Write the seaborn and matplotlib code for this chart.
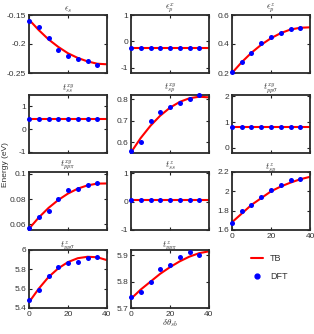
import numpy as np
import seaborn as sns
import matplotlib.pyplot as plt
from matplotlib.lines import Line2D

# =========================
# DATA
# =========================
angle_dft = [0, 5, 10, 15, 20, 25, 30, 35]
angle_tb = [0, 5, 10, 15, 20, 25, 30, 35, 40]

titles = [r'$\epsilon_s$', r'$\epsilon_p^x$', r'$\epsilon_p^z$',
          r'$t_{ss}^{xy}$', r'$t_{sp}^{xy}$', r'$t_{pp\sigma}^{xy}$',
          r'$t_{pp\pi}^{xy}$', r'$t_{ss}^{z}$', r'$t_{sp}^{z}$',
          r'$t_{pp\sigma}^{z}$', r'$t_{pp\pi}^{z}$']

eps_s_dft = [-0.160, -0.171, -0.190, -0.210, -0.220, -0.226, -0.230, -0.236]
eps_s_tb = [-0.158, -0.176, -0.192, -0.205, -0.216, -0.224, -0.230, -0.234, -0.235]
eps_px_dft = [-0.25] * 8
eps_px_tb = [-0.25] * 9
eps_pz_dft = [0.210, 0.277, 0.337, 0.405, 0.445, 0.477, 0.503, 0.508]
eps_pz_tb = [0.200, 0.275, 0.340, 0.395, 0.440, 0.475, 0.500, 0.512, 0.515]
tss_xy_dft = [0.45] * 8
tss_xy_tb = [0.45] * 9
tsp_xy_dft = [0.557, 0.600, 0.700, 0.740, 0.762, 0.781, 0.800, 0.821]
tsp_xy_tb = [0.553, 0.620, 0.677, 0.724, 0.761, 0.788, 0.805, 0.812, 0.809]
tpps_xy_dft = [0.8] * 8
tpps_xy_tb = [0.8] * 9
tppp_xy_dft = [0.0569, 0.0657, 0.0707, 0.0799, 0.0870, 0.0877, 0.0909, 0.0927]
tppp_xy_tb = [0.0565, 0.0654, 0.0730, 0.0793, 0.0844, 0.0883, 0.0909, 0.0923, 0.0924]
tss_z_dft = [0.05] * 8
tss_z_tb = [0.05] * 9
tsp_z_dft = [1.677, 1.793, 1.856, 1.940, 2.013, 2.070, 2.113, 2.123]
tsp_z_tb = [1.680, 1.770, 1.860, 1.930, 2.000, 2.050, 2.090, 2.125, 2.150]
tpps_z_dft = [5.48, 5.59, 5.729, 5.823, 5.868, 5.879, 5.920, 5.930]
tpps_z_tb = [5.46, 5.600, 5.720, 5.810, 5.875, 5.915, 5.930, 5.925, 5.895]
tppp_z_dft = [5.742, 5.761, 5.800, 5.849, 5.865, 5.892, 5.913, 5.902]
tppp_z_tb = [5.735, 5.770, 5.800, 5.830, 5.855, 5.877, 5.895, 5.908, 5.915]

dft_series = [eps_s_dft, eps_px_dft, eps_pz_dft, tss_xy_dft, tsp_xy_dft, tpps_xy_dft,
              tppp_xy_dft, tss_z_dft, tsp_z_dft, tpps_z_dft, tppp_z_dft]
tb_series = [eps_s_tb, eps_px_tb, eps_pz_tb, tss_xy_tb, tsp_xy_tb, tpps_xy_tb,
             tppp_xy_tb, tss_z_tb, tsp_z_tb, tpps_z_tb, tppp_z_tb]

ylims = [(-0.25, -0.15), (-1.2, 1), (0.2, 0.6), (-1.05, 1.5), (0.55, 0.82), (-0.2, 2.05),
         (0.0555, 0.1015), (-1, 1.05), (1.6, 2.2), (5.4, 6.0), (5.7, 5.92)]
yticks = [[-0.25, -0.2, -0.15], [-1, 0, 1], [0.2, 0.4, 0.6], [-1, 0, 1], [0.6, 0.7, 0.8],
          [0, 1, 2], [0.06, 0.08, 0.1], [-1, 0, 1], [1.6, 1.8, 2, 2.2],
          [5.4, 5.6, 5.8, 6], [5.7, 5.8, 5.9]]
yticklabels = [['-0.25', '-0.2', '-0.15'], ['-1', '0', '1'], ['0.2', '0.4', '0.6'],
               ['-1', '0', '1'], ['0.6', '0.7', '0.8'], ['0', '1', '2'],
               ['0.06', '0.08', '0.1'], ['-1', '0', '1'], ['1.6', '1.8', '2', '2.2'],
               ['5.4', '5.6', '5.8', '6'], ['5.7', '5.8', '5.9']]

# =========================
# STYLE
# =========================
sns.set_style('ticks')
plt.rcParams['font.family'] = ['Liberation Sans', 'DejaVu Sans']
plt.rcParams['mathtext.fontset'] = 'cm'

W, H = 314, 334
fig = plt.figure(figsize=(W / 100, H / 100), dpi=100)

col_left = [29, 131, 232]
row_top = [15, 95, 172, 250]
aw, ah = 78, 58

for i in range(11):
    r, c = divmod(i, 3)
    ax = fig.add_axes([col_left[c] / W, 1 - (row_top[r] + ah) / H, aw / W, ah / H])
    sns.lineplot(x=angle_tb, y=tb_series[i], ax=ax, color='red', linewidth=1.5)
    sns.scatterplot(x=angle_dft, y=dft_series[i], ax=ax, color='blue', s=13,
                    edgecolor='blue', linewidth=0, zorder=5, clip_on=False)
    ax.set_xlim(0, 40)
    ax.set_ylim(*ylims[i])
    ax.set_xticks([0, 20, 40])
    ax.set_yticks(yticks[i])
    ax.set_yticklabels(yticklabels[i])
    if r == 3 or i == 8:
        ax.set_xticklabels(['0', '20', '40'])
    else:
        ax.set_xticklabels([])
    ax.tick_params(direction='in', top=True, right=True, length=2, width=0.8,
                   labelsize=6, colors='#222222', labelcolor='#333333', pad=2)
    for sp in ax.spines.values():
        sp.set_linewidth(1.3)
        sp.set_color('#2a2a2a')
    ax.set_title(titles[i], fontsize=6.5, pad=2, color='#333333')
    ax.set_xlabel('')
    ax.set_ylabel('')

handles = [Line2D([], [], color='red', linewidth=1.5),
           Line2D([], [], color='blue', marker='o', linestyle='', markersize=3.5)]
fig.legend(handles, ['TB', 'DFT'], loc='upper left',
           bbox_to_anchor=(243 / W, 1 - 246 / H), frameon=False, fontsize=6.5,
           handlelength=1.3, labelspacing=1.0, labelcolor='#333333')

fig.text(6 / W, 1 - 165 / H, 'Energy (eV)', rotation=90, va='center', ha='center',
         fontsize=6, color='#333333')
fig.text(170 / W, 1 - 323 / H, r'$\delta\theta_{sb}$', va='center', ha='center',
         fontsize=6.5, color='#333333')

fig.savefig('out.png', dpi=100)
